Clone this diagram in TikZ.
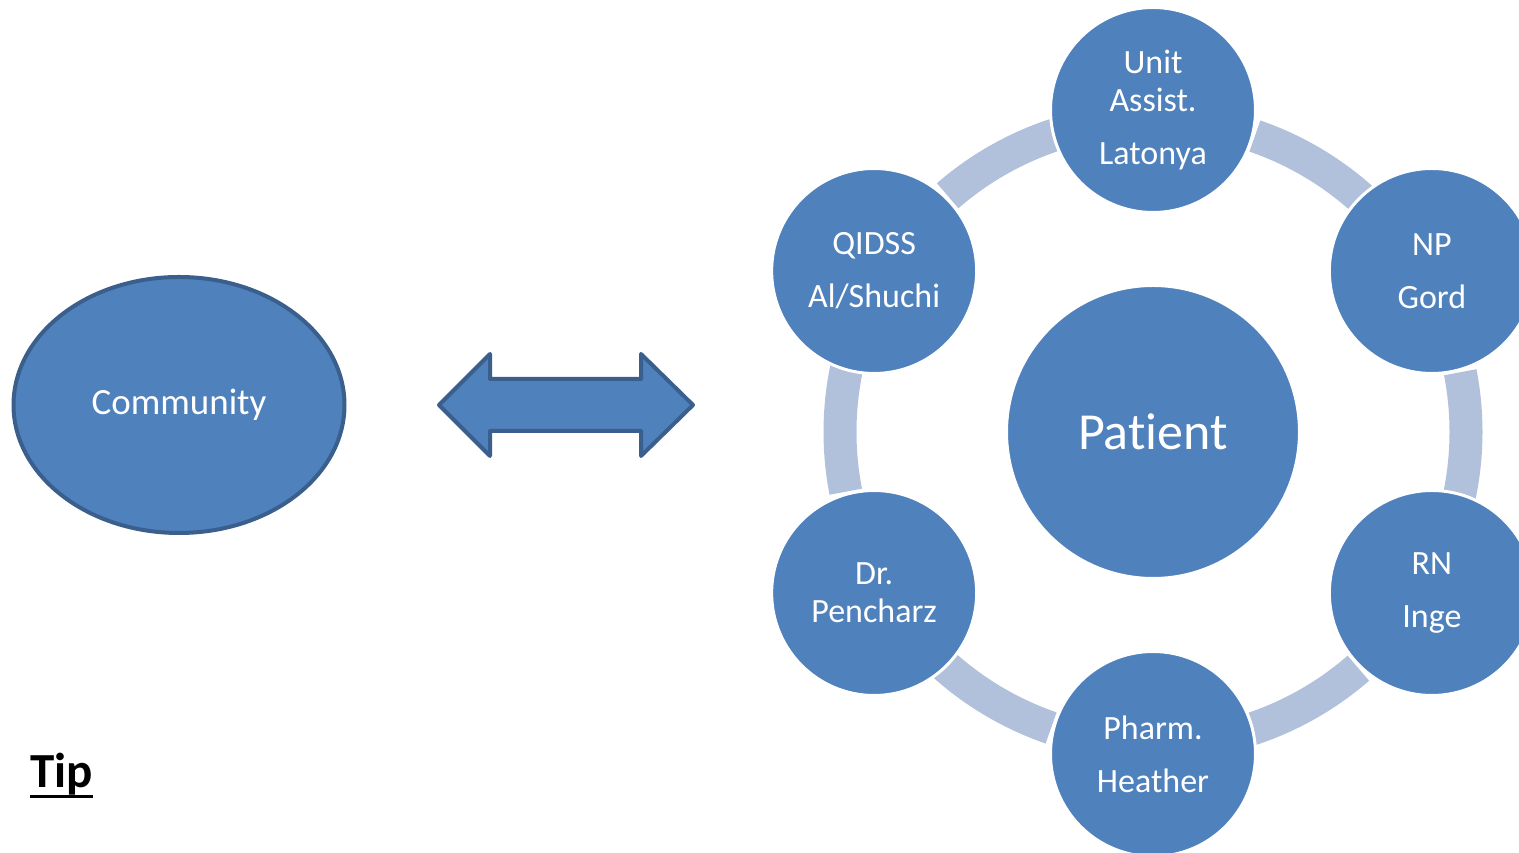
\documentclass[tikz,border=0pt]{standalone}
\usepackage{fontspec}
\setmainfont[RawFeature=-liga]{Carlito}
\usetikzlibrary{shapes.geometric, positioning, calc}
\definecolor{nodeblue}{HTML}{4F81BD}
\definecolor{edgeblue}{HTML}{3A5F8C}
\definecolor{ringblue}{HTML}{B1C1DC}

\begin{document}
\begin{tikzpicture}[x=1pt, y=1pt,
    member/.style={circle, fill=nodeblue, draw=white, line width=3pt, minimum size=205pt, inner sep=0pt, text=white, align=center, font=\fontsize{34}{38}\selectfont},
    hub/.style={circle, fill=nodeblue, draw=white, line width=3pt, minimum size=293pt, inner sep=0pt, text=white, font=\fontsize{52}{60}\selectfont},
    link/.style={draw=ringblue, line width=33pt}]
    \useasboundingbox (0,0) rectangle (1519,853);
    \clip (0,0) rectangle (1519,853);

    % Community and the two-way arrow
    \node[ellipse, fill=nodeblue, draw=edgeblue, line width=4pt, minimum width=331pt, minimum height=256pt, inner sep=0pt, text=white, font=\fontsize{37}{40}\selectfont] (community) at (179,448) {\raisebox{-3pt}{Community}};
    \coordinate (twoway) at (566,448);
    \draw[fill=nodeblue, draw=edgeblue, line width=4pt, line join=round]
        ($(twoway)+(-127,0)$) -- ($(twoway)+(-76,51)$) -- ($(twoway)+(-76,26)$) -- ($(twoway)+(75,26)$)
        -- ($(twoway)+(75,51)$) -- ($(twoway)+(127,0)$) -- ($(twoway)+(75,-51)$) -- ($(twoway)+(75,-26)$)
        -- ($(twoway)+(-76,-26)$) -- ($(twoway)+(-76,-51)$) -- cycle;

    % Care team round the patient
    \node[hub] (patient) at (1153,421) {Patient};
    \foreach \ang in {90,30,-30,-90,-150,150}
        \draw[link] ($(patient)+(\ang-19:313)$) arc[start angle=\ang-19, end angle=\ang-43, radius=313];
    \node[member] (unit) at ($(patient)+(90:322)$) {Unit\\Assist.\\[15pt]Latonya};
    \node[member] (np) at ($(patient)+(30:322)$) {NP\\[15pt]Gord};
    \node[member] (rn) at ($(patient)+(-30:322)$) {RN\\[15pt]Inge};
    \node[member] (pharm) at ($(patient)+(-90:322)$) {Pharm.\\[15pt]Heather};
    \node[member] (dr) at ($(patient)+(-150:322)$) {Dr.\\Pencharz};
    \node[member] (qidss) at ($(patient)+(150:322)$) {QIDSS\\[15pt]Al/Shuchi};

    % Tip
    \node[anchor=base west, inner sep=0pt, font=\bfseries\fontsize{49}{54}\selectfont] (tip) at (30,65) {Tip};
    \draw[line width=3.5pt] ($(tip.base west)+(0,-8.5)$) -- ($(tip.base east)+(0,-8.5)$);
\end{tikzpicture}
\end{document}
